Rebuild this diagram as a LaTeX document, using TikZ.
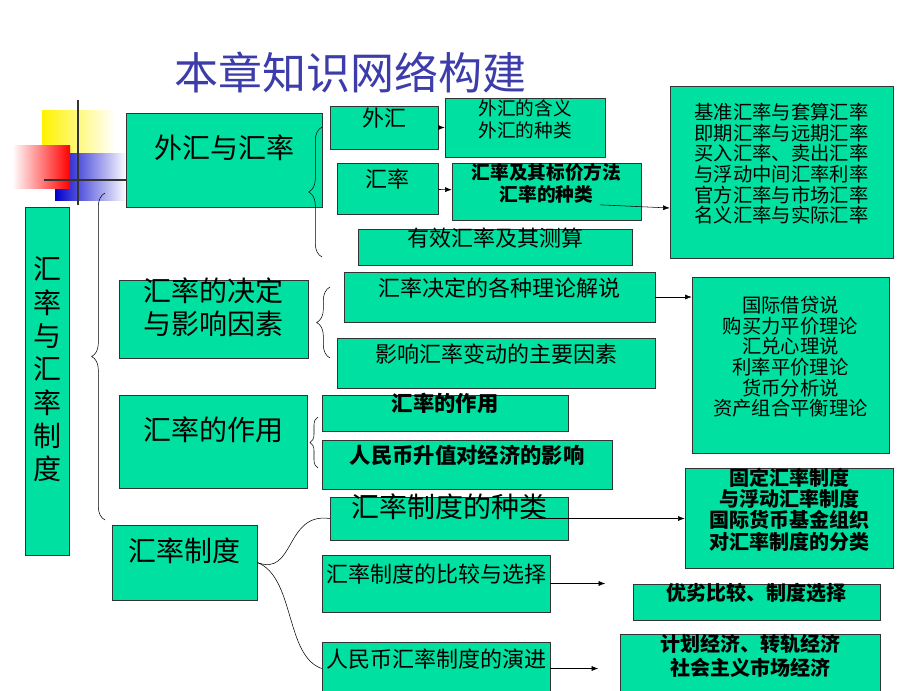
\documentclass[tikz,border=0pt]{standalone}
\usepackage{fontspec}
\setmainfont{Noto Sans CJK SC}
\usetikzlibrary{arrows.meta}
\usetikzlibrary{fit}
\usetikzlibrary{decorations.pathreplacing}
\definecolor{boxgreen}{RGB}{0,224,160}
\definecolor{titleblue}{RGB}{60,60,170}
\tikzset{
	box/.style={draw=black!80, fill=boxgreen, inner sep=0pt, align=center},
	big/.style={font=\fontsize{21}{25}\selectfont},
	mid/.style={font=\fontsize{16.5}{20}\selectfont},
	sml/.style={font=\bfseries\fontsize{14}{16.5}\selectfont},
	lst/.style={font=\fontsize{14.5}{15.5}\selectfont},
	arr/.style={-{Latex[length=5pt]}, thin},
	brc/.style={decorate, decoration={brace, amplitude=10pt}, thin}
}
\begin{document}
\begin{tikzpicture}[x=0.75pt, y=-0.75pt]
				\useasboundingbox (0,0) rectangle (920,690);
				% corner ornament
				\fill[left color=yellow!90!orange, right color=white] (42,110) rectangle (115,153);
				\fill[left color=blue!80!black, right color=white] (55,153) rectangle (127,200);
				\fill[left color=white, right color=red] (12,145) rectangle (70,188);
				\draw[line width=2pt, black!80] (78,100) -- (78,205);
				\draw[line width=2pt, black!80] (44,180) -- (127,180);
		
				\node[titleblue, font=\fontsize{33}{36}\selectfont] (title) at (350,72) {本章知识网络构建};
		
				\node[box, big, fit={(25,207) (69,555)}] (root) {汇\\率\\与\\汇\\率\\制\\度};
		
				\node[box, big, fit={(126,113) (322,207)}] (fx) {外汇与汇率};
				\node[box, big, fit={(119,280) (308,358)}] (det) {汇率的决定\\与影响因素};
				\node[box, big, fit={(119,395) (307,488)}] (role) {汇率的作用};
				\node[box, big, fit={(112,525) (257,600)}] (sys) {汇率制度};
		
				\node[box, mid, fit={(330,106) (438,149)}] (wh) {外汇};
				\node[box, mid, fit={(337,163) (438,214)}] (hl) {汇率};
				\node[box, mid, fit={(358,229) (632,265)}] (yx) {有效汇率及其测算};
				\node[box, sml, fit={(445,98) (605,157)}] (whd) {\mdseries 外汇的含义\\外汇的种类};
				\node[box, sml, fit={(452,163) (641,220)}] (hld) {汇率及其标价方法\\汇率的种类};
				\node[box, lst, fit={(670,86) (893,258)}] (kinds) {基准汇率与套算汇率\\即期汇率与远期汇率\\买入汇率、卖出汇率\\与浮动中间汇率利率\\官方汇率与市场汇率\\名义汇率与实际汇率};
		
				\node[box, mid, fit={(344,272) (655,322)}] (th) {汇率决定的各种理论解说};
				\node[box, mid, fit={(337,338) (655,388)}] (fac) {影响汇率变动的主要因素};
				\node[box, lst, fit={(692,277) (889,453)}] (thl) {国际借贷说\\购买力平价理论\\汇兑心理说\\利率平价理论\\货币分析说\\资产组合平衡理论};
		
				\node[box, sml, font=\bfseries\fontsize{16}{19}\selectfont, fit={(322,395) (568,431)}] (rz) {汇率的作用};
				\node[box, sml, font=\bfseries\fontsize{16}{19}\selectfont, fit={(322,440) (612,489)}] (rmb) {人民币升值对经济的影响};
		
				\node[box, big, fit={(330,497) (568,540)}] (zl) {汇率制度的种类};
				\node[box, mid, fit={(322,555) (550,612)}] (bj) {汇率制度的比较与选择};
				\node[box, mid, fit={(322,642) (550,695)}] (yj) {人民币汇率制度的演进};
				\node[box, sml, font=\bfseries\fontsize{15}{16}\selectfont, fit={(685,468) (893,568)}] (zll) {固定汇率制度\\与浮动汇率制度\\国际货币基金组织\\对汇率制度的分类};
				\node[box, sml, font=\bfseries\fontsize{15}{18}\selectfont, fit={(633,584) (880,620)}] (yl) {优劣比较、制度选择};
				\node[box, sml, font=\bfseries\fontsize{15}{18}\selectfont, fit={(620,634) (880,695)}] (jh) {计划经济、转轨经济\\社会主义市场经济};
		
				% connectors
				\begin{scope}[on background layer/.style={}]
				\end{scope}
				\draw[brc] (105,520) -- (105,193);
				\draw[brc] (322,257) -- (322,127);
				\draw[brc] (330,358) -- (330,287);
				\draw[brc, decoration={amplitude=6pt}] (318,468) -- (318,417);
				\draw[thin] (sys.east) .. controls (295,577) and (285,512) .. (zl.west);
				\draw[thin] (sys.east) .. controls (295,577) and (285,656) .. (yj.west);
		
				\draw[arr] (wh) -- (whd);
				\draw[arr] (hl) -- (hld);
				\draw[arr] ([yshift=-10pt]hld.center) ++(40pt,0) -- (kinds.west |- 0,{208});
				\draw[arr] (th) -- (thl.west |- th);
				\draw[arr] ([xshift=-30pt]zl.east) -- (zll.west |- zl);
				\draw[arr] (bj.east) -- ++(55,0);
				\draw[arr] (yj.east) -- ++(48,0);
			\end{tikzpicture}
\end{document}
